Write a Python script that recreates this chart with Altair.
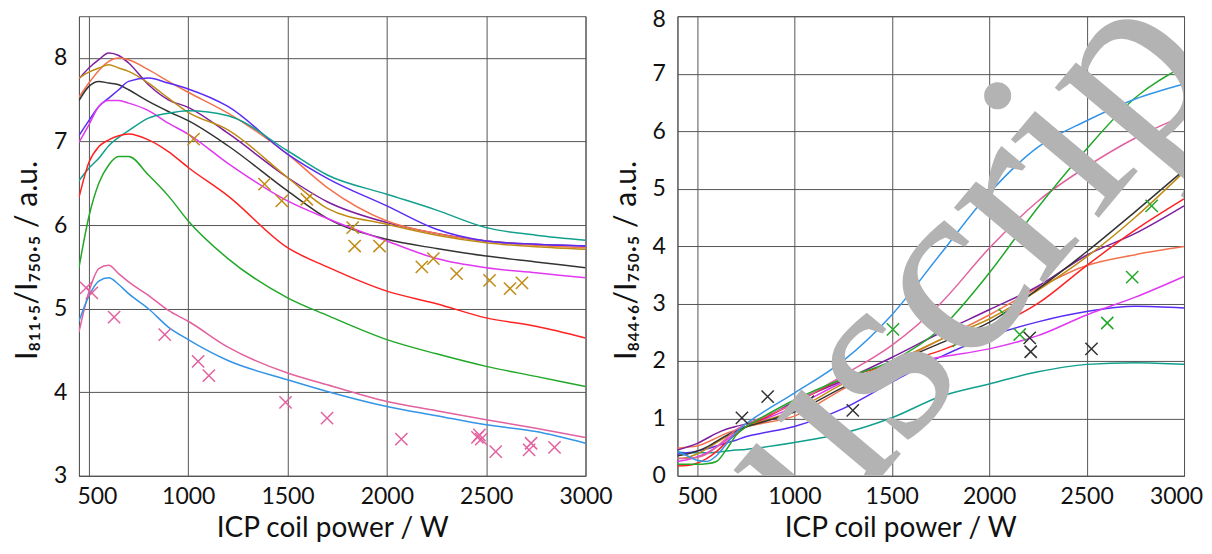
import altair as alt
import pandas as pd

# ---------------- data: left panel (I811.5 / I750.5) ----------------
left_x = [450, 500, 550, 600, 650, 700, 800, 900, 1000, 1200, 1500, 1700, 2000, 2250, 2500, 2750, 3000]
left_series = {
    "purple":  [7.75, 7.88, 7.98, 8.06, 8.03, 7.94, 7.68, 7.50, 7.41, 7.10, 6.57, 6.28, 6.03, 5.90, 5.81, 5.77, 5.75],
    "orange":  [7.53, 7.70, 7.85, 7.96, 8.00, 7.98, 7.86, 7.72, 7.59, 7.34, 6.85, 6.45, 6.05, 5.90, 5.81, 5.76, 5.73],
    "gold":    [7.76, 7.83, 7.88, 7.92, 7.88, 7.84, 7.70, 7.52, 7.35, 7.14, 6.57, 6.20, 6.01, 5.88, 5.79, 5.74, 5.71],
    "black":   [7.49, 7.66, 7.72, 7.70, 7.68, 7.62, 7.48, 7.36, 7.25, 6.95, 6.41, 6.08, 5.83, 5.72, 5.63, 5.56, 5.49],
    "violet":  [7.07, 7.25, 7.42, 7.52, 7.62, 7.72, 7.76, 7.70, 7.63, 7.42, 6.85, 6.56, 6.23, 5.95, 5.81, 5.77, 5.75],
    "magenta": [6.99, 7.20, 7.42, 7.49, 7.49, 7.46, 7.37, 7.22, 7.09, 6.74, 6.29, 6.08, 5.81, 5.60, 5.49, 5.43, 5.37],
    "teal":    [6.53, 6.68, 6.80, 6.95, 7.05, 7.13, 7.28, 7.34, 7.37, 7.31, 6.89, 6.60, 6.37, 6.18, 5.97, 5.88, 5.82],
    "red":     [6.33, 6.75, 6.94, 7.02, 7.07, 7.09, 7.02, 6.88, 6.69, 6.35, 5.73, 5.50, 5.21, 5.06, 4.89, 4.79, 4.65],
    "green":   [5.49, 6.10, 6.50, 6.72, 6.82, 6.82, 6.60, 6.35, 6.05, 5.60, 5.13, 4.92, 4.63, 4.46, 4.31, 4.19, 4.07],
    "pink":    [4.72, 5.20, 5.48, 5.52, 5.42, 5.32, 5.16, 4.98, 4.85, 4.54, 4.23, 4.09, 3.89, 3.78, 3.67, 3.57, 3.46],
    "sky":     [4.85, 5.15, 5.33, 5.37, 5.29, 5.18, 5.00, 4.78, 4.63, 4.38, 4.15, 4.01, 3.83, 3.72, 3.61, 3.53, 3.39],
}
left_pink_x = [486, 515, 627, 882, 1050, 1104, 1490, 1699, 2073, 2456, 2466, 2475, 2548, 2716, 2726, 2844]
left_pink_y = [5.25, 5.19, 4.90, 4.69, 4.37, 4.20, 3.88, 3.69, 3.44, 3.46, 3.49, 3.44, 3.29, 3.31, 3.39, 3.34]
left_gold_x = [1027, 1384, 1471, 1597, 1828, 1838, 1963, 2176, 2234, 2351, 2517, 2620, 2680]
left_gold_y = [7.03, 6.49, 6.29, 6.31, 5.97, 5.75, 5.75, 5.50, 5.60, 5.42, 5.34, 5.24, 5.31]

# ---------------- data: right panel (I844.6 / I750.5) ----------------
right_x = [400, 450, 500, 550, 600, 650, 700, 750, 800, 1000, 1250, 1500, 1750, 2000, 2250, 2500, 2750, 3000]
right_series = {
    "teal":    [0.42, 0.40, 0.40, 0.40, 0.41, 0.43, 0.45, 0.46, 0.48, 0.58, 0.74, 1.01, 1.38, 1.60, 1.81, 1.94, 1.97, 1.94],
    "violet":  [0.38, 0.40, 0.43, 0.47, 0.52, 0.57, 0.62, 0.68, 0.72, 0.86, 1.17, 1.63, 2.07, 2.43, 2.68, 2.86, 2.95, 2.92],
    "magenta": [0.25, 0.28, 0.33, 0.40, 0.50, 0.62, 0.75, 0.85, 0.92, 1.20, 1.63, 1.91, 2.07, 2.21, 2.44, 2.80, 3.11, 3.47],
    "orange":  [0.48, 0.50, 0.52, 0.58, 0.66, 0.74, 0.80, 0.85, 0.89, 1.04, 1.51, 1.94, 2.37, 2.80, 3.27, 3.66, 3.85, 3.99],
    "purple":  [0.45, 0.50, 0.56, 0.65, 0.74, 0.81, 0.86, 0.90, 0.94, 1.29, 1.66, 2.06, 2.49, 2.89, 3.30, 3.84, 4.22, 4.70],
    "red":     [0.17, 0.18, 0.22, 0.30, 0.42, 0.58, 0.72, 0.85, 0.93, 1.26, 1.69, 1.94, 2.18, 2.55, 3.00, 3.66, 4.28, 4.82],
    "gold":    [0.30, 0.32, 0.38, 0.47, 0.58, 0.68, 0.77, 0.85, 0.91, 1.14, 1.60, 1.97, 2.37, 2.73, 3.23, 3.81, 4.50, 5.29],
    "black":   [0.35, 0.38, 0.43, 0.50, 0.60, 0.70, 0.78, 0.85, 0.90, 1.11, 1.54, 1.94, 2.31, 2.67, 3.25, 3.90, 4.60, 5.32],
    "pink":    [0.30, 0.30, 0.32, 0.38, 0.50, 0.65, 0.80, 0.90, 0.97, 1.26, 1.75, 2.27, 3.00, 3.96, 4.78, 5.38, 5.88, 6.27],
    "green":   [0.20, 0.20, 0.20, 0.21, 0.25, 0.45, 0.70, 0.85, 0.95, 1.32, 1.69, 2.00, 2.56, 3.53, 4.67, 5.69, 6.58, 7.13],
    "sky":     [0.42, 0.35, 0.27, 0.25, 0.35, 0.55, 0.75, 0.90, 1.02, 1.44, 2.00, 2.80, 3.86, 4.92, 5.72, 6.18, 6.56, 6.82],
}
right_black_x = [731, 863, 1069, 1300, 1488, 2208, 2213, 2525]
right_black_y = [1.01, 1.38, 1.29, 1.14, 1.80, 2.40, 2.16, 2.21]
right_green_x = [1506, 1844, 2080, 2157, 2606, 2734, 2834]
right_green_y = [2.55, 2.35, 2.80, 2.46, 2.66, 3.46, 4.70]

series_names = ["purple", "orange", "gold", "black", "violet", "magenta", "teal", "red", "green", "pink", "sky"]
series_colors = ["#7d1fa0", "#f2734d", "#c08c14", "#333333", "#5a2cf5", "#e038f0", "#12a08e", "#ff2222", "#22a829", "#e2619f", "#3494e6"]

x_ticks = [500, 1000, 1500, 2000, 2500, 3000]
x_title = "ICP coil power / W"
left_y_title = "I₈₁₁.₅/I₇₅₀.₅ / a.u."
right_y_title = "I₈₄₄.₆/I₇₅₀.₅ / a.u."
watermark = "Accepted Manuscript"

def long_table(xs, series):
    rows = []
    for name, vals in series.items():
        for i, (x, v) in enumerate(zip(xs, vals)):
            rows.append({"power": x, "value": v, "series": name, "order": i})
    return pd.DataFrame(rows)

dfL = long_table(left_x, left_series)
dfR = long_table(right_x, right_series)

XSHAPE = "M-1,-1L1,1M-1,1L1,-1"
W, H = 507, 460
GRID = "#555555"
LFONT = "Lato"

def axis_x(**kw):
    return alt.Axis(values=x_ticks, format="d", title=x_title, grid=True, gridColor=GRID, gridWidth=1,
                    ticks=False, domainColor=GRID, labelFlush=False, labelFont=LFONT, labelFontSize=23,
                    labelColor="#111", labelPadding=10, titleFont=LFONT, titleFontSize=28,
                    titleFontWeight="normal", titleColor="#111", titlePadding=6, **kw)

def axis_y(values, title, **kw):
    return alt.Axis(values=values, format="d", title=title, grid=True, gridColor=GRID, gridWidth=1,
                    ticks=False, domainColor=GRID, labelFont=LFONT, labelFontSize=23,
                    labelColor="#111", labelPadding=12, titleFont=LFONT, titleFontSize=30,
                    titleFontWeight="normal", titleColor="#111", titlePadding=11, **kw)

color_enc = alt.Color("series:N", scale=alt.Scale(domain=series_names, range=series_colors), legend=None)

def marker_layer(xs, ys, col, xscale, yscale):
    d = pd.DataFrame({"power": xs, "value": ys})
    return alt.Chart(d).mark_point(shape=XSHAPE, filled=False, size=150, strokeWidth=1.5,
                                   color=col, opacity=1).encode(
        x=alt.X("power:Q", scale=xscale), y=alt.Y("value:Q", scale=yscale))

xsL = alt.Scale(domain=[450, 3000], nice=False)
ysL = alt.Scale(domain=[3, 8.5], nice=False)
xsR = alt.Scale(domain=[400, 3000], nice=False)
ysR = alt.Scale(domain=[0, 8], nice=False)

linesL = alt.Chart(dfL).mark_line(strokeWidth=1.5, interpolate="monotone", clip=True).encode(
    x=alt.X("power:Q", scale=xsL, axis=axis_x(
        labelOffset={"condition": {"test": "datum.value == 500", "value": 8}, "value": 0})),
    y=alt.Y("value:Q", scale=ysL, axis=axis_y([3, 4, 5, 6, 7, 8], left_y_title, titleY=244)),
    color=color_enc, order="order:Q")

left = alt.layer(
    linesL,
    marker_layer(left_pink_x, left_pink_y, "#e2619f", xsL, ysL),
    marker_layer(left_gold_x, left_gold_y, "#c08c14", xsL, ysL),
).properties(width=W, height=H)

linesR = alt.Chart(dfR).mark_line(strokeWidth=1.5, interpolate="monotone", clip=True).encode(
    x=alt.X("power:Q", scale=xsR, axis=axis_x(
        titleX=223,
        labelOffset={"condition": {"test": "datum.value == 3000", "value": -8}, "value": 0})),
    y=alt.Y("value:Q", scale=ysR, axis=axis_y(
        [0, 1, 2, 3, 4, 5, 6, 7, 8], right_y_title, titleY=244,
        labelOffset={"condition": {"test": "datum.value == 8", "value": 3}, "value": 0})),
    color=color_enc, order="order:Q")

wm = alt.Chart(pd.DataFrame({"t": [watermark]})).mark_text(
    font="Liberation Serif", fontSize=256, angle=310, color="#b3b3b3",
    align="center", baseline="alphabetic", clip=True).encode(
    text="t:N", x=alt.value(-114), y=alt.value(840))

right = alt.layer(
    linesR,
    marker_layer(right_black_x, right_black_y, "#333333", xsR, ysR),
    marker_layer(right_green_x, right_green_y, "#22a829", xsR, ysR),
    wm,
).properties(width=W, height=H)

chart = alt.hconcat(left, right, spacing=92, bounds="flush").properties(
    padding={"left": 4, "top": -1, "right": 0, "bottom": -1}, background="white"
).configure_view(stroke=GRID, strokeWidth=1)

chart.save("out.html", embed_options={"renderer": "svg", "actions": False})
